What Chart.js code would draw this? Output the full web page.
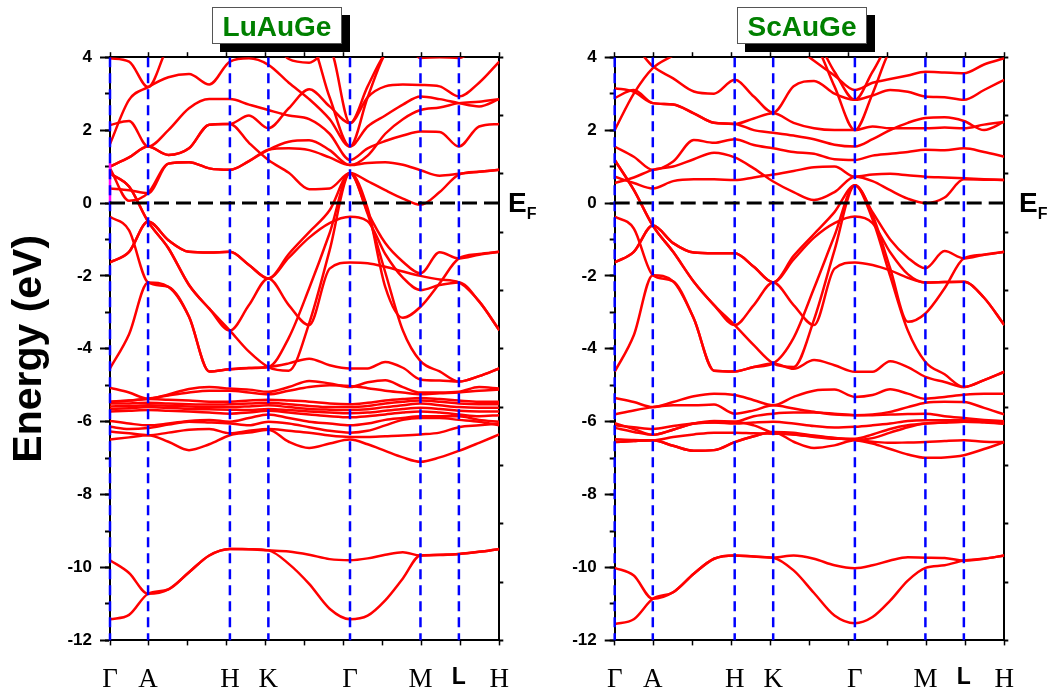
<!DOCTYPE html>
<html><head><meta charset="utf-8">
<script src="https://cdn.jsdelivr.net/npm/chart.js@4.4.1/dist/chart.umd.min.js"></script>
<style>
html,body{margin:0;padding:0;background:#fff;}
#wrap{position:relative;width:1050px;height:695px;overflow:hidden;background:#fff;}
canvas{position:absolute;top:0;}
</style></head><body>
<div id="wrap">
<canvas id="c1" style="left:0px" width="545" height="695"></canvas>
<canvas id="c2" style="left:505px" width="545" height="695"></canvas>
</div>
<script>
// ---- k-path (high-symmetry points) and tick labels ----
const kpos = [0, 0.0978, 0.308, 0.4068, 0.6165, 0.7975, 0.8962, 1.0];
const kLabels = ['Γ','A','H','K','Γ','M','L','H'];
// sample positions along the path where energies were read
const kGrid = [0,0.049,0.0978,0.150,0.203,0.255,0.308,0.357,0.4068,0.4592,0.5116,0.5641,0.6165,0.6618,0.707,0.7523,0.7975,0.8468,0.8962,0.9481,1.0];

// ---- LuAuGe bands (eV) ----
const luS1 = [-11.42,-11.3,-10.72,-10.6,-10.13,-9.67,-9.49,-9.5,-9.53,-9.9,-10.45,-11.13,-11.42,-11.32,-10.9,-10.3,-9.67,-9.66,-9.63,-9.57,-9.49];
const luS2 = [-9.8,-10.15,-10.72,-10.6,-10.13,-9.67,-9.49,-9.5,-9.53,-9.56,-9.65,-9.77,-9.8,-9.75,-9.65,-9.58,-9.67,-9.65,-9.63,-9.57,-9.49];
const luD1 = [-6.49,-6.43,-6.37,-6.55,-6.78,-6.62,-6.37,-6.3,-6.22,-6.55,-6.72,-6.6,-6.49,-6.62,-6.8,-6.98,-7.1,-6.98,-6.8,-6.58,-6.35];
const luD2 = [-6.27,-6.32,-6.37,-6.3,-6.22,-6.2,-6.32,-6.25,-6.2,-6.25,-6.3,-6.38,-6.42,-6.42,-6.4,-6.38,-6.35,-6.3,-6.15,-6.1,-6.05];
const luD3 = [-6.14,-6.2,-6.17,-6.08,-6.0,-6.02,-6.05,-6.1,-6.0,-6.05,-6.15,-6.25,-6.3,-6.25,-6.1,-5.95,-5.9,-5.9,-5.95,-6.0,-6.1];
const luD4 = [-5.98,-6.05,-6.1,-6.05,-5.98,-5.95,-6.0,-5.9,-5.8,-5.9,-6.0,-6.05,-6.1,-6.05,-5.95,-5.9,-5.85,-5.85,-5.85,-5.95,-6.0];
const luD5 = [-5.72,-5.7,-5.68,-5.7,-5.72,-5.75,-5.78,-5.75,-5.7,-5.75,-5.8,-5.85,-5.88,-5.85,-5.8,-5.75,-5.72,-5.75,-5.8,-5.85,-5.82];
const luD6 = [-5.65,-5.63,-5.6,-5.62,-5.65,-5.66,-5.67,-5.68,-5.65,-5.68,-5.72,-5.75,-5.77,-5.75,-5.7,-5.65,-5.62,-5.65,-5.7,-5.72,-5.72];
const luD7 = [-5.58,-5.57,-5.55,-5.56,-5.58,-5.6,-5.6,-5.58,-5.55,-5.6,-5.65,-5.67,-5.68,-5.66,-5.6,-5.55,-5.5,-5.55,-5.6,-5.62,-5.62];
const luD8 = [-5.5,-5.5,-5.48,-5.5,-5.52,-5.53,-5.52,-5.5,-5.48,-5.52,-5.57,-5.6,-5.6,-5.57,-5.5,-5.45,-5.42,-5.45,-5.5,-5.52,-5.52];
const luD9 = [-5.45,-5.42,-5.38,-5.4,-5.42,-5.45,-5.45,-5.42,-5.4,-5.42,-5.45,-5.5,-5.52,-5.48,-5.42,-5.38,-5.35,-5.38,-5.42,-5.45,-5.45];
const luD10 = [-5.46,-5.42,-5.37,-5.28,-5.2,-5.15,-5.15,-5.2,-5.25,-5.15,-5.05,-5.0,-5.02,-5.08,-5.15,-5.2,-5.25,-5.22,-5.2,-5.15,-5.12];
const luD11 = [-5.07,-5.2,-5.37,-5.25,-5.1,-5.05,-5.09,-5.12,-5.18,-5.05,-4.88,-4.95,-5.05,-4.92,-4.86,-5.05,-5.2,-5.2,-5.18,-5.05,-5.09];
const luV1 = [-4.54,-3.6,-2.18,-2.3,-3.12,-4.62,-4.56,-4.53,-4.5,-4.4,-4.27,-4.45,-4.54,-4.54,-4.36,-4.52,-4.84,-4.87,-4.9,-4.75,-4.54];
const luV2 = [-0.38,-0.75,-2.18,-2.3,-3.12,-4.62,-4.56,-4.53,-4.5,-3.7,-2.34,-0.83,0.82,-0.3,-1.9,-3.5,-4.34,-4.62,-4.9,-4.75,-4.54];
const luV3 = [0.81,0.45,-0.51,-1.24,-2.25,-2.9,-3.5,-4.08,-4.5,-4.6,-3.3,-1.3,0.82,-0.15,-2.3,-3.15,-2.85,-2.2,-1.52,-1.4,-1.34];
const luV4 = [-1.63,-1.34,-0.51,-1.02,-1.34,-1.36,-1.34,-1.7,-2.07,-1.4,-0.8,-0.2,0.82,-0.25,-1.1,-1.61,-1.93,-1.35,-1.52,-1.42,-1.34];
const luV5 = [0.81,0.45,-0.51,-1.24,-2.25,-2.9,-3.5,-2.8,-2.07,-2.8,-3.35,-1.8,-1.63,-1.65,-1.75,-1.88,-2.0,-2.1,-2.18,-2.7,-3.49];
const luV6 = [-1.63,-1.34,-0.51,-1.02,-1.34,-1.36,-1.34,-1.7,-2.07,-1.5,-0.95,-0.55,-0.38,-0.5,-1.4,-2.05,-2.39,-2.25,-2.18,-2.7,-3.49];
const luC1 = [0.40,0.35,0.27,1.08,1.12,0.95,0.91,1.15,1.46,1.68,1.72,1.45,1.04,1.3,1.9,2.3,2.55,2.62,2.74,2.78,2.85];
const luC2 = [0.95,0.06,0.27,1.08,1.12,0.95,0.91,1.15,1.46,1.5,1.45,1.25,1.04,1.1,1.12,1.05,0.9,0.75,0.8,0.86,0.91];
const luC3 = [1.0,1.25,1.55,1.32,1.5,2.15,2.17,1.65,1.18,0.83,0.38,0.4,0.82,0.6,0.35,0.12,-0.05,0.3,0.78,0.86,0.91];
const luC4 = [1.0,1.25,1.55,1.32,1.5,2.15,2.17,2.4,2.05,2.6,3.12,2.65,2.19,2.9,3.2,3.25,3.24,3.2,2.92,3.3,3.88];
const luC5 = [1.62,2.83,3.18,3.45,3.54,3.25,3.88,3.97,3.79,3.3,2.85,2.3,1.55,2.1,2.4,2.7,2.92,2.85,2.74,2.65,2.85];
const luC6 = [2.14,2.25,1.55,2.0,2.6,2.85,2.85,2.7,2.55,2.4,2.3,1.9,1.18,1.5,1.7,1.85,1.96,1.95,1.55,2.1,2.17];
const luC7 = [3.97,3.88,3.18,4.3,4.6,4.8,4.6,4.4,4.5,3.95,3.85,4.2,2.19,3.2,4.1,4.4,3.98,4.0,3.98,4.3,4.5];
const luC8 = [4.6,4.6,4.5,4.6,4.7,4.7,4.6,4.6,4.6,4.6,4.5,2.9,1.55,2.9,4.1,4.5,4.6,4.6,4.6,4.6,4.6];
const luBands = [luS1,luS2,luD1,luD2,luD3,luD4,luD5,luD6,luD7,luD8,luD9,luD10,luD11,
  luV1,luV2,luV3,luV4,luV5,luV6,luC1,luC2,luC3,luC4,luC5,luC6,luC7,luC8];
const luMagenta = [0, 1.1]; // short band segment drawn on the Γ edge

// ---- ScAuGe bands (eV) ----
const scS1 = [-11.55,-11.42,-10.86,-10.68,-10.17,-9.76,-9.67,-9.7,-9.73,-10.08,-10.7,-11.32,-11.53,-11.36,-10.91,-10.36,-10.01,-9.94,-9.81,-9.76,-9.67];
const scS2 = [-10.01,-10.22,-10.86,-10.68,-10.17,-9.76,-9.67,-9.7,-9.73,-9.67,-9.76,-9.94,-10.02,-9.94,-9.81,-9.72,-9.73,-9.74,-9.81,-9.76,-9.67];
const scD1 = [-5.35,-5.46,-5.6,-5.46,-5.3,-5.23,-5.27,-5.41,-5.55,-5.32,-5.15,-5.12,-5.32,-5.27,-5.11,-5.23,-5.37,-5.32,-5.26,-5.23,-5.23];
const scD2 = [-5.8,-5.69,-5.6,-5.55,-5.55,-5.53,-5.78,-5.69,-5.55,-5.64,-5.73,-5.8,-5.82,-5.8,-5.73,-5.6,-5.48,-5.45,-5.46,-5.62,-5.8];
const scD3 = [-6.04,-6.2,-6.36,-6.22,-6.05,-5.98,-6.0,-5.85,-5.78,-5.75,-5.75,-5.78,-5.82,-5.82,-5.8,-5.79,-5.78,-5.85,-5.9,-5.95,-5.99];
const scD4 = [-6.17,-6.28,-6.36,-6.22,-6.05,-6.02,-6.05,-6.02,-6.0,-6.05,-6.12,-6.16,-6.14,-6.1,-6.05,-5.98,-5.96,-5.96,-5.96,-6.0,-6.05];
const scD5 = [-6.48,-6.5,-6.51,-6.42,-6.35,-6.3,-6.3,-6.32,-6.33,-6.35,-6.42,-6.47,-6.47,-6.35,-6.2,-6.1,-6.05,-6.02,-6.0,-6.02,-6.05];
const scD6 = [-6.56,-6.53,-6.51,-6.66,-6.8,-6.78,-6.56,-6.4,-6.28,-6.55,-6.72,-6.65,-6.51,-6.55,-6.58,-6.57,-6.56,-6.53,-6.51,-6.55,-6.56];
const scD7 = [-6.56,-6.53,-6.51,-6.66,-6.8,-6.78,-6.56,-6.4,-6.28,-6.3,-6.38,-6.45,-6.5,-6.6,-6.75,-6.9,-6.99,-6.98,-6.92,-6.75,-6.56];
const scD8 = [-6.1,-6.15,-6.2,-6.12,-6.05,-6.02,-6.0,-6.1,-6.3,-6.35,-6.4,-6.45,-6.5,-6.45,-6.3,-6.15,-6.05,-6.02,-6.0,-6.0,-6.05];
const scV1 = [-4.63,-3.63,-1.98,-2.15,-3.17,-4.6,-4.62,-4.5,-4.4,-4.55,-4.31,-4.45,-4.63,-4.63,-4.34,-4.5,-4.77,-4.91,-5.05,-4.86,-4.63];
const scV2 = [-0.37,-0.7,-1.98,-2.15,-3.17,-4.6,-4.62,-4.5,-4.4,-3.7,-2.34,-0.9,0.49,-0.45,-2.0,-3.5,-4.36,-4.7,-5.05,-4.86,-4.63];
const scV3 = [1.18,0.36,-0.62,-1.34,-2.16,-2.8,-3.35,-3.9,-4.4,-4.5,-3.2,-1.3,0.49,-0.33,-1.79,-3.26,-3.03,-2.34,-1.52,-1.42,-1.34];
const scV4 = [-1.63,-1.34,-0.62,-1.1,-1.36,-1.38,-1.38,-1.75,-2.18,-1.45,-0.85,-0.25,0.49,-0.25,-1.0,-1.5,-1.79,-1.32,-1.52,-1.42,-1.34];
const scV5 = [1.18,0.36,-0.62,-1.34,-2.16,-2.8,-3.35,-2.8,-2.18,-2.8,-3.35,-1.8,-1.63,-1.7,-1.85,-2.05,-2.18,-2.17,-2.16,-2.6,-3.35];
const scV6 = [-1.63,-1.34,-0.62,-1.1,-1.36,-1.38,-1.38,-1.75,-2.18,-1.55,-0.95,-0.55,-0.37,-0.55,-1.35,-1.95,-2.18,-2.17,-2.16,-2.6,-3.35];
const scC1 = [0.72,0.55,0.4,0.6,0.65,0.65,0.63,0.7,0.78,0.88,0.98,1.0,0.72,0.78,0.8,0.76,0.72,0.7,0.68,0.65,0.63];
const scC2 = [0.55,0.7,0.91,1.0,1.2,1.38,1.25,0.95,0.59,0.3,0.08,0.3,0.72,0.6,0.35,0.12,0.0,0.15,0.65,0.64,0.63];
const scC3 = [1.55,1.27,0.91,1.14,1.73,1.65,1.75,1.59,1.5,1.4,1.35,1.2,1.18,1.3,1.35,1.4,1.46,1.45,1.5,1.4,1.27];
const scC4 = [2.88,3.1,2.74,2.7,2.46,2.2,2.17,2.32,2.46,2.2,2.05,2.0,2.0,2.1,2.05,2.05,2.05,2.07,2.05,2.15,2.23];
const scC5 = [3.15,3.05,2.74,2.7,2.46,2.2,2.17,2.0,1.93,1.85,1.75,1.6,1.55,1.75,2.0,2.2,2.33,2.35,2.25,2.0,2.23];
const scC6 = [4.4,4.3,3.75,3.42,3.06,3.0,3.38,2.92,2.48,3.2,3.35,3.0,2.83,2.95,3.1,3.05,2.92,2.9,2.83,3.1,3.38];
const scC7 = [2.0,3.0,3.7,4.05,4.4,4.5,4.5,4.4,4.4,4.3,3.9,3.5,3.1,3.3,3.4,3.5,3.6,3.58,3.56,3.8,3.97];
const scC8 = [4.6,4.6,4.6,4.6,4.6,4.6,4.6,4.6,4.6,4.6,4.5,3.6,2.83,3.6,4.4,4.6,4.6,4.6,4.6,4.6,4.6];
const scC9 = [4.6,4.6,4.6,4.6,4.6,4.6,4.6,4.6,4.6,4.6,4.4,3.2,2.0,3.0,4.2,4.6,4.6,4.6,4.6,4.6,4.6];
const scBands = [scS1,scS2,scD1,scD2,scD3,scD4,scD5,scD6,scD7,scD8,
  scV1,scV2,scV3,scV4,scV5,scV6,scC1,scC2,scC3,scC4,scC5,scC6,scC7,scC8,scC9];

// y-axis ticks
const yMin = -12, yMax = 4, yMajorStep = 2, yMinorStep = 1, yRightStep = 1.6;

// ---- drawing ----
const decor = {
  id: 'decor',
  afterDatasetsDraw(chart, args, o) {
    const {ctx, chartArea: a, scales} = chart;
    const x = scales.x, y = scales.y;
    ctx.save();
    ctx.beginPath(); ctx.rect(a.left - 2, a.top, a.right - a.left + 4, a.bottom - a.top); ctx.clip();
    ctx.strokeStyle = '#0000ff'; ctx.lineWidth = 2.5; ctx.setLineDash([10, 6]);
    kpos.slice(0, -1).forEach(k => {
      const px = x.getPixelForValue(k);
      ctx.beginPath(); ctx.moveTo(px, a.top); ctx.lineTo(px, a.bottom); ctx.stroke();
    });
    ctx.strokeStyle = '#000'; ctx.lineWidth = 3; ctx.setLineDash([15, 7]);
    const py = y.getPixelForValue(0);
    ctx.beginPath(); ctx.moveTo(a.left, py); ctx.lineTo(a.right, py); ctx.stroke();
    ctx.restore();
  },
  afterDraw(chart, args, o) {
    const ctx = chart.ctx;
    ctx.save();
    const [bx, by, bw, bh] = o.box;
    ctx.fillStyle = '#000'; ctx.fillRect(bx + 8, by + 8, bw, bh);
    ctx.fillStyle = '#fff'; ctx.fillRect(bx, by, bw, bh);
    ctx.strokeStyle = '#555'; ctx.lineWidth = 1; ctx.strokeRect(bx + 0.5, by + 0.5, bw - 1, bh - 1);
    ctx.fillStyle = '#008000'; ctx.font = 'bold 28px "Liberation Sans", Arial, sans-serif';
    ctx.textAlign = 'center'; ctx.textBaseline = 'alphabetic';
    ctx.fillText(o.title, bx + bw / 2, by + 29);
    ctx.fillStyle = '#000'; ctx.textAlign = 'left';
    ctx.font = 'bold 28px "Liberation Sans", Arial, sans-serif';
    ctx.fillText('E', o.efX, 212);
    const w = ctx.measureText('E').width;
    ctx.font = 'bold 16px "Liberation Sans", Arial, sans-serif';
    ctx.fillText('F', o.efX + w, 219);
    ctx.restore();
  }
};

function makePanel(id, bands, extra, leftW, rightW, title, box, efX, showTitle) {
  const datasets = [];
  extra.forEach(e => datasets.push(e));
  bands.forEach(b => datasets.push({
    data: b.map((v, i) => ({x: kGrid[i], y: v})),
    borderColor: '#ff0000', borderWidth: 2.5, pointRadius: 0,
    cubicInterpolationMode: 'monotone', fill: false, clip: 0
  }));
  const black = '#000';
  new Chart(document.getElementById(id), {
    type: 'line',
    data: {datasets},
    plugins: [decor],
    options: {
      responsive: false, animation: false, events: [],
      layout: {padding: 0},
      plugins: {legend: {display: false}, tooltip: {enabled: false}, decor: {title, box, efX}},
      scales: {
        x: {
          type: 'linear', min: 0, max: 1, position: 'bottom', weight: 1,
          afterBuildTicks: s => { s.ticks = kpos.map(v => ({value: v})); },
          ticks: {
            autoSkip: false, maxRotation: 0, minRotation: 0, padding: 23, color: black,
            font: c => (kLabels[c.index] === 'L'
              ? {family: '"Liberation Sans", Arial, sans-serif', size: 23, weight: 'bold'}
              : {family: '"Liberation Serif", "Times New Roman", serif', size: 27, weight: 'normal'}),
            callback: (v, i) => kLabels[i]
          },
          grid: {display: false, drawTicks: false}, border: {display: false},
          afterFit: s => { s.height = 695 - 640.4; }
        },
        xMinor: {
          type: 'linear', min: 0, max: 1, position: 'bottom', weight: 0,
          ticks: {display: false, stepSize: 0.1},
          grid: {drawOnChartArea: false, drawTicks: true, tickLength: 5, color: black, tickWidth: 1.5},
          border: {display: true, color: black, width: 2},
          afterFit: s => { s.height = 0; }
        },
        xTop: {
          type: 'linear', min: 0, max: 1, position: 'top',
          ticks: {display: false, stepSize: 0.1},
          grid: {drawOnChartArea: false, drawTicks: true, tickLength: 5, color: black, tickWidth: 1.5},
          border: {display: true, color: black, width: 2},
          afterFit: s => { s.height = 57.2; }
        },
        y: {
          type: 'linear', min: yMin, max: yMax, position: 'left', weight: 1,
          ticks: {stepSize: yMajorStep, padding: 8, color: black,
            font: {family: '"Liberation Sans", Arial, sans-serif', size: 17, weight: 'bold'}},
          grid: {drawOnChartArea: false, drawTicks: true, tickLength: 10, color: black, tickWidth: 2},
          border: {display: true, color: black, width: 2},
          title: {display: showTitle, text: 'Energy (eV)', color: black,
            font: {family: '"Liberation Sans", Arial, sans-serif', size: 41, weight: 'bold'},
            padding: {top: 5, bottom: 0}},
          afterFit: s => { s.width = leftW; }
        },
        yMinor: {
          type: 'linear', min: yMin, max: yMax, position: 'left', weight: 0,
          ticks: {display: false, stepSize: yMinorStep},
          grid: {drawOnChartArea: false, drawTicks: true, tickLength: 5, color: black, tickWidth: 2},
          border: {display: true, color: black, width: 2},
          afterFit: s => { s.width = 0; }
        },
        y2: {
          type: 'linear', min: yMin, max: yMax, position: 'right',
          ticks: {display: false, stepSize: yRightStep},
          grid: {drawOnChartArea: false, drawTicks: true, tickLength: 4, color: black, tickWidth: 2},
          border: {display: true, color: black, width: 2},
          afterFit: s => { s.width = rightW; }
        }
      }
    }
  });
}

const magentaSet = {
  data: luMagenta.map(v => ({x: kpos[0], y: v})),
  borderColor: '#ff00ff', borderWidth: 2.5, pointRadius: 0, fill: false, clip: 4
};

makePanel('c1', luBands, [magentaSet], 110, 545 - 499.3, 'LuAuGe', [212, 7, 130, 37], 508, true);
makePanel('c2', scBands, [], 109.7, 545 - (1004.3 - 505), 'ScAuGe', [232, 7, 130, 37], 514, false);
</script>
</body></html>
